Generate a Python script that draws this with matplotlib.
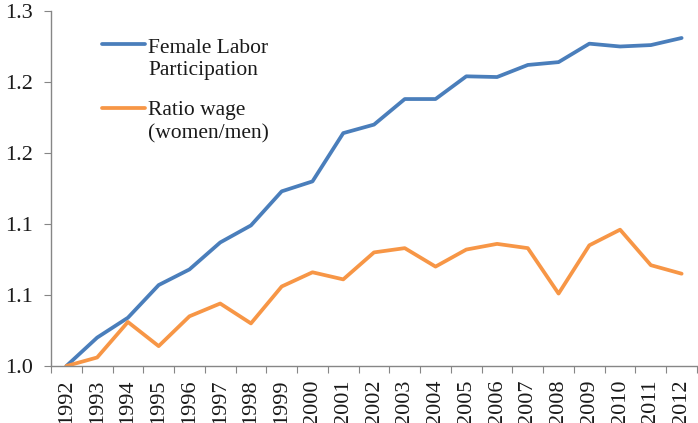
import matplotlib
matplotlib.use("Agg")
import matplotlib.pyplot as plt
from matplotlib.ticker import FixedLocator
from matplotlib.lines import Line2D

years = [str(y) for y in range(1992, 2013)]
female_labor = [1.000, 1.020, 1.034, 1.057, 1.068, 1.087, 1.099, 1.123, 1.130, 1.164,
                1.170, 1.188, 1.188, 1.204, 1.2035, 1.212, 1.214, 1.227, 1.225, 1.226, 1.231]
ratio_wage = [1.000, 1.006, 1.031, 1.014, 1.035, 1.044, 1.030, 1.056, 1.066, 1.061,
              1.080, 1.083, 1.070, 1.082, 1.086, 1.083, 1.051, 1.085, 1.096, 1.071, 1.065]
ytick_vals = [1.0, 1.05, 1.1, 1.15, 1.2, 1.25]
ytick_labels = ["1.0", "1.1", "1.1", "1.2", "1.2", "1.3"]
series_labels = [["Female Labor", "Participation"], ["Ratio wage", "(women/men)"]]
colors = ['#4A7EBB', '#F79646']

plt.rcParams['font.family'] = ['Liberation Serif', 'DejaVu Serif']

W, H = 698, 423
fig = plt.figure(figsize=(W/100, H/100), dpi=100)
ax = fig.add_axes([51/W, 1 - 366/H, (697-51)/W, (366-11)/H])

x = list(range(len(years)))
for vals, c in zip([female_labor, ratio_wage], colors):
    ax.plot(x, vals, color=c, lw=2.7, solid_joinstyle='round', solid_capstyle='round')

ax.set_xlim(-0.5, len(years) - 0.5)
ax.set_ylim(1.0, 1.25)
ax.set_yticks(ytick_vals)
ax.set_yticklabels(ytick_labels)

ax.xaxis.set_major_locator(FixedLocator([i - 0.5 for i in range(len(years) + 1)]))
ax.xaxis.set_major_formatter(plt.NullFormatter())
ax.xaxis.set_minor_locator(FixedLocator(x))
ax.set_xticklabels(years, minor=True, rotation=90)
ax.tick_params(axis='x', which='minor', length=0, labelsize=16, pad=9.5, labelcolor='#1a1a1a')
ax.tick_params(axis='x', which='major', length=5, color='#868686', direction='out')
ax.tick_params(axis='y', length=5, color='#868686', labelsize=16, pad=8, labelcolor='#1a1a1a')

for s in ['top', 'right']:
    ax.spines[s].set_visible(False)
for s in ['left', 'bottom']:
    ax.spines[s].set_color('#868686')
    ax.spines[s].set_linewidth(1.0)

# legend (drawn manually so the handle lines up with the first text line)
handle_rows = [44, 108]
baselines = [[53, 75], [115, 138]]
for row, c, lab, bl in zip(handle_rows, colors, series_labels, baselines):
    fy = 1 - row / H
    fig.add_artist(Line2D([102/W, 145/W], [fy, fy], color=c, lw=2.7,
                          transform=fig.transFigure, solid_capstyle='round'))
    for t, b in zip(lab, bl):
        fig.text(148/W, 1 - b / H, t, fontsize=15.5,
                 va='baseline', ha='left', color='#1a1a1a')

fig.savefig('out.png', dpi=100)
